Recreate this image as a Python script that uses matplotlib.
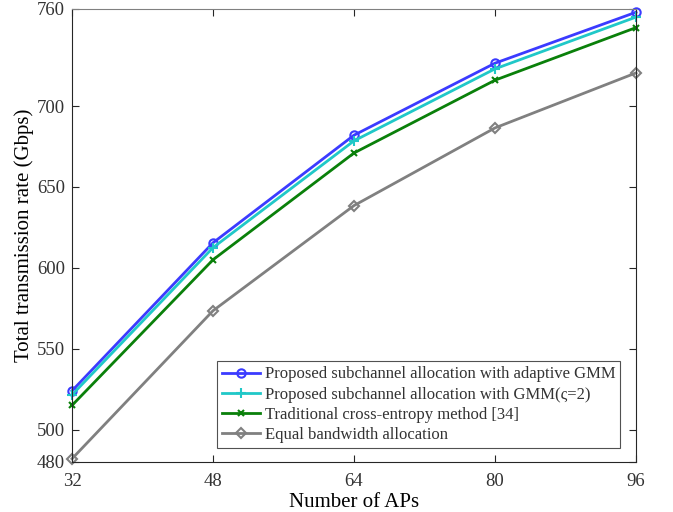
import numpy as np
import matplotlib.pyplot as plt

plt.rcParams['font.family'] = ['Liberation Serif', 'DejaVu Serif']
plt.rcParams['mathtext.fontset'] = 'stix'
plt.rcParams['text.color'] = '#333333'

# Número de APs y tasa total de transmisión (Gbps)
num_aps = [32, 48, 64, 80, 96]
rate_adaptive_gmm = [524, 615.5, 682, 726.5, 758]
rate_gmm_2 = [521.5, 612.5, 678.5, 723, 755]
rate_cross_entropy = [515, 605, 671, 716, 748.5]
rate_equal_bw = [482, 573.5, 638.5, 686.5, 720.5]

labels = ['Proposed subchannel allocation with adaptive GMM',
          'Proposed subchannel allocation with GMM(\u03c2=2)',
          'Traditional cross-entropy method [34]',
          'Equal bandwidth allocation']

xticks = [32, 48, 64, 80, 96]
yticks = [480, 500, 550, 600, 650, 700, 760]

fig = plt.figure(figsize=(6.73, 5.12), dpi=100)
ax = fig.add_axes([72 / 673, 50 / 512, 564 / 673, 453 / 512])

ax.plot(num_aps, rate_adaptive_gmm, color='#3b3bff', lw=2, marker='o',
        ms=6, mfc='none', mew=1.5, label=labels[0], clip_on=False)
ax.plot(num_aps, rate_gmm_2, color='#20c8c8', lw=2, marker='+',
        ms=7, mew=1.5, label=labels[1], clip_on=False)
ax.plot(num_aps, rate_cross_entropy, color='#0a800a', lw=2, marker='x',
        ms=4.5, mew=1.5, label=labels[2], clip_on=False)
ax.plot(num_aps, rate_equal_bw, color='#808080', lw=2, marker='D',
        ms=5.5, mfc='none', mew=1.5, label=labels[3], clip_on=False)

ax.set_xlim(32, 96)
ax.set_ylim(480, 760)
ax.set_xticks(xticks)
ax.set_yticks(yticks)
ax.tick_params(direction='in', top=True, right=True, labelsize=13.5,
               length=5, width=0.8, colors='#262626', labelcolor='#333333')
ax.tick_params(axis='x', pad=8)
ax.tick_params(axis='y', pad=5)
for s in ax.spines.values():
    s.set_color('#262626')
    s.set_linewidth(0.8)
ax.spines['top'].set_color('#808080')

ax.set_xlabel('Number of APs', fontsize=15, labelpad=2)
ax.set_ylabel('Total transmission rate (Gbps)', fontsize=15, labelpad=2)

leg = ax.legend(loc='lower right', bbox_to_anchor=(0.972, 0.031),
                fontsize=12, frameon=True, fancybox=False,
                borderpad=0.3, labelspacing=0.25, handlelength=2.3,
                handletextpad=0.25, borderaxespad=0)
leg.get_frame().set_edgecolor('#262626')
leg.get_frame().set_linewidth(0.8)

fig.savefig('out.png', dpi=100)
